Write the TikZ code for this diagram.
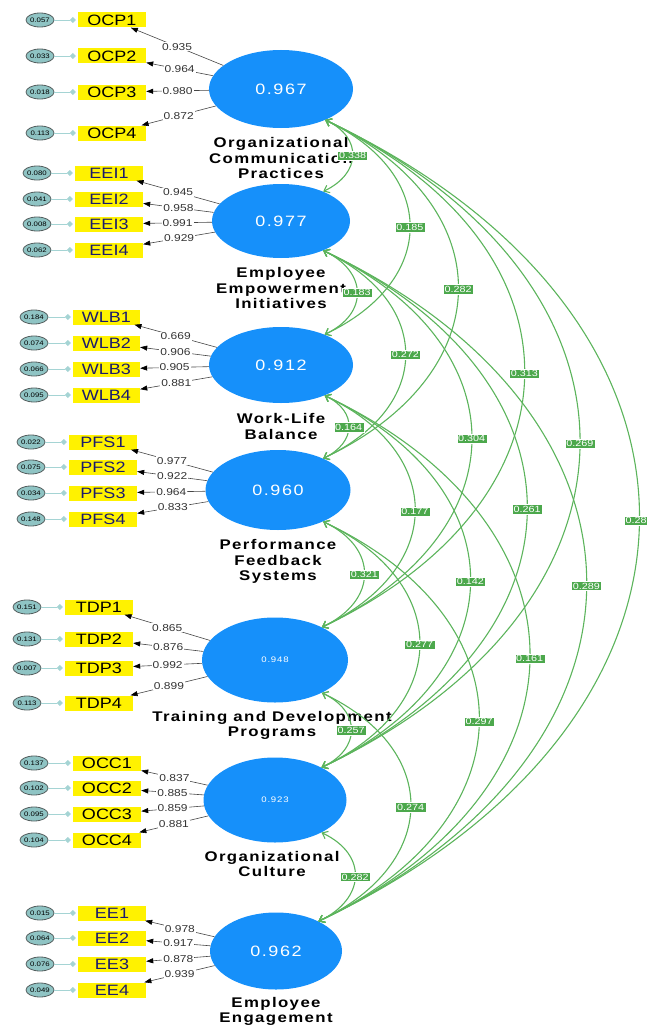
\documentclass[tikz,border=0pt]{standalone}
\usepackage{fontspec}
\setmainfont{Liberation Sans}[FakeStretch=1.2]
\newfontfamily\latfont{Liberation Sans}[FakeStretch=1.2,LetterSpace=10]
\usetikzlibrary{shapes.geometric,arrows.meta,positioning,calc}

\definecolor{latblue}{RGB}{22,144,250}
\definecolor{errfill}{RGB}{143,196,196}
\definecolor{errdraw}{RGB}{85,95,95}
\definecolor{errcol}{RGB}{165,212,212}
\definecolor{loadcol}{RGB}{70,70,70}
\definecolor{covcol}{RGB}{92,180,92}
\definecolor{covfill}{RGB}{76,168,76}
\definecolor{indnavy}{RGB}{26,26,110}

\begin{document}
\begin{tikzpicture}[x=1pt,y=-1pt,
	lat/.style={ellipse,fill=latblue,inner sep=0pt,text=white,font=\latfont\fontsize{15}{15}\selectfont},
	latname/.style={align=center,inner sep=0pt,font=\latfont\bfseries\fontsize{14}{15.5}\selectfont},
	ind/.style={fill=yellow,minimum width=68,minimum height=15,inner sep=0pt,font=\fontsize{15}{15}\selectfont},
	err/.style={ellipse,draw=errdraw,line width=0.8pt,fill=errfill,minimum width=28,minimum height=14,inner sep=0pt,font=\fontsize{6.5}{6.5}\selectfont},
	errln/.style={draw=errcol,line width=0.8pt,-{Diamond[length=6pt,width=6pt]},shorten >=2pt},
	load/.style={draw=loadcol,line width=0.6pt,-{Triangle[length=7pt,width=5pt,color=black]}},
	loadlbl/.style={fill=white,inner sep=1pt,text=black!80,font=\fontsize{10}{10}\selectfont},
	cov/.style={draw=covcol,line width=1.1pt,{Straight Barb[length=5pt,width=8pt]}-{Straight Barb[length=5pt,width=8pt]}},
	covlbl/.style={fill=covfill,draw=white,line width=0.3pt,text=white,inner sep=1.5pt,font=\fontsize{9}{9}\selectfont}]
	
	\useasboundingbox (0,0) rectangle (646,1025);
	
	% latent variables
	\node[lat,minimum width=144,minimum height=78] (ocp) at (281,89) {0.967};
	\node[lat,minimum width=138,minimum height=74] (eei) at (281,221) {0.977};
	\node[lat,minimum width=144,minimum height=76] (wlb) at (281,365) {0.912};
	\node[lat,minimum width=145,minimum height=80] (pfs) at (278,490) {0.960};
	\node[lat,minimum width=146,minimum height=85,font=\latfont\fontsize{8}{8}\selectfont] (tdp) at (275,660) {0.948};
	\node[lat,minimum width=143,minimum height=85,font=\latfont\fontsize{8}{8}\selectfont] (occ) at (275,800) {0.923};
	\node[lat,minimum width=132,minimum height=77] (ee) at (276,951) {0.962};
	
	\node[latname,below=9pt of ocp] (ocpname) {Organizational\\Communication\\Practices};
	\node[latname,below=9pt of eei] (eeiname) {Employee\\Empowerment\\Initiatives};
	\node[latname,below=10pt of wlb] (wlbname) {Work-Life\\Balance};
	\node[latname,below=9pt of pfs] (pfsname) {Performance\\Feedback\\Systems};
	\node[latname,below=8pt of tdp,xshift=-3pt] (tdpname) {Training and Development\\Programs};
	\node[latname,below=8pt of occ,xshift=-3pt] (occname) {Organizational\\Culture};
	\node[latname,below=7pt of ee] (eename) {Employee\\Engagement};
	
	% indicators
	\foreach \y/\e/\l [count=\k] in {20/0.057/0.935,56/0.033/0.964,92/0.018/0.980,133/0.113/0.872}{
		\node[ind] (OCP\k) at (112,\y) {OCP\k};
		\node[err] (eOCP\k) at (40,\y) {\e};
		\draw[errln] (eOCP\k) -- (OCP\k);
		\draw[load] (ocp) -- node[loadlbl] {\l} (OCP\k);
	}
	\foreach \y/\e/\l [count=\k] in {173/0.080/0.945,199/0.041/0.958,224/0.008/0.991,250/0.062/0.929}{
		\node[ind,text=indnavy] (EEI\k) at (109,\y) {EEI\k};
		\node[err] (eEEI\k) at (37,\y) {\e};
		\draw[errln] (eEEI\k) -- (EEI\k);
		\draw[load] (eei) -- node[loadlbl] {\l} (EEI\k);
	}
	\foreach \y/\e/\l [count=\k] in {317/0.184/0.669,343/0.074/0.906,369/0.066/0.905,395/0.095/0.881}{
		\node[ind,text=indnavy,minimum width=67] (WLB\k) at (106.5,\y) {WLB\k};
		\node[err] (eWLB\k) at (34,\y) {\e};
		\draw[errln] (eWLB\k) -- (WLB\k);
		\draw[load] (wlb) -- node[loadlbl] {\l} (WLB\k);
	}
	\foreach \y/\e/\l [count=\k] in {442/0.022/0.977,467/0.075/0.922,493/0.034/0.964,519/0.148/0.833}{
		\node[ind,text=indnavy] (PFS\k) at (103,\y) {PFS\k};
		\node[err] (ePFS\k) at (31,\y) {\e};
		\draw[errln] (ePFS\k) -- (PFS\k);
		\draw[load] (pfs) -- node[loadlbl] {\l} (PFS\k);
	}
	\foreach \y/\e/\l [count=\k] in {607/0.151/0.865,639/0.131/0.876,668/0.007/0.992,703/0.113/0.899}{
		\node[ind] (TDP\k) at (99,\y) {TDP\k};
		\node[err] (eTDP\k) at (27,\y) {\e};
		\draw[errln] (eTDP\k) -- (TDP\k);
		\draw[load] (tdp) -- node[loadlbl] {\l} (TDP\k);
	}
	\foreach \y/\e/\l [count=\k] in {763/0.137/0.837,788/0.102/0.885,814/0.095/0.859,840/0.104/0.881}{
		\node[ind] (OCC\k) at (107,\y) {OCC\k};
		\node[err] (eOCC\k) at (34,\y) {\e};
		\draw[errln] (eOCC\k) -- (OCC\k);
		\draw[load] (occ) -- node[loadlbl] {\l} (OCC\k);
	}
	\foreach \y/\e/\l [count=\k] in {913/0.015/0.978,938/0.064/0.917,964/0.076/0.878,990/0.049/0.939}{
		\node[ind,text=indnavy] (EE\k) at (112,\y) {EE\k};
		\node[err] (eEE\k) at (40,\y) {\e};
		\draw[errln] (eEE\k) -- (EE\k);
		\draw[load] (ee) -- node[loadlbl] {\l} (EE\k);
	}
	
	% correlations between the latent variables
	\foreach \a/\b/\v in {ocp/eei/0.338,ocp/wlb/0.185,ocp/pfs/0.282,ocp/tdp/0.313,ocp/occ/0.269,ocp/ee/0.281,
		eei/wlb/0.183,eei/pfs/0.272,eei/tdp/0.304,eei/occ/0.261,eei/ee/0.289,
		wlb/pfs/0.164,wlb/tdp/0.177,wlb/occ/0.142,wlb/ee/0.161,
		pfs/tdp/0.321,pfs/occ/0.277,pfs/ee/0.297,
		tdp/occ/0.257,tdp/ee/0.274,
		occ/ee/0.282}{
		\draw[cov] let \p1=(\a.-35), \p2=(\b.35), \n1={veclen(\x2-\x1,\y2-\y1)} in
			(\p1) .. controls +(0.528*\n1,-0.25*\n1) and +(0.528*\n1,0.25*\n1) .. (\p2) node[covlbl,pos=0.5] {\v};
	}
	
\end{tikzpicture}
\end{document}
